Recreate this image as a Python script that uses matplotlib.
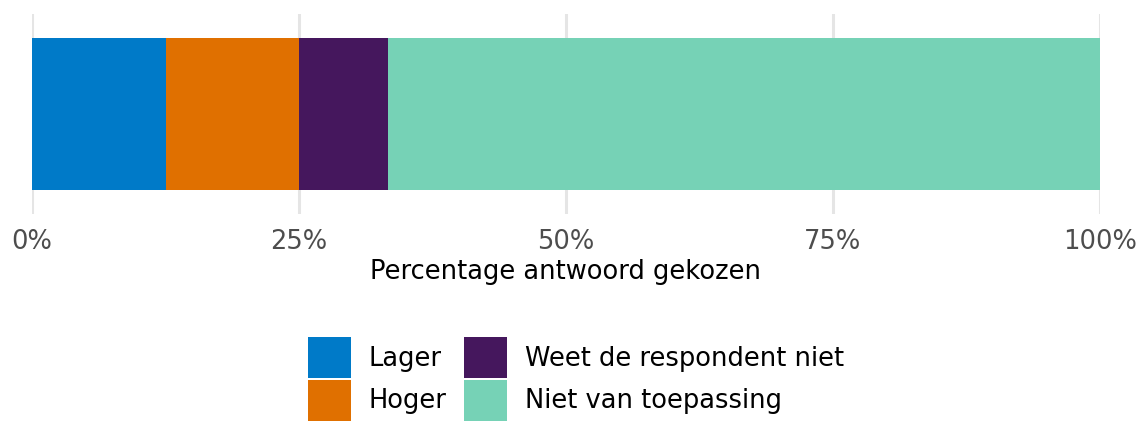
import matplotlib
matplotlib.use("Agg")
import matplotlib.pyplot as plt
from matplotlib.patches import Patch

categories = ["Lager", "Hoger", "Weet de respondent niet", "Niet van toepassing"]
shares = [12.5, 12.5, 8.33, 66.67]
colors = ["#007AC8", "#E07000", "#45175D", "#76D2B6"]
tick_values = [0, 25, 50, 75, 100]
tick_labels = ["0%", "25%", "50%", "75%", "100%"]


def main():
    plt.rcParams["font.family"] = ["DejaVu Sans"]

    fig = plt.figure(figsize=(11.4, 4.22), dpi=100)
    ax = fig.add_axes([32 / 1140, 1 - 214 / 422, 1068 / 1140, 200 / 422])

    left = 0
    for cat, val, col in zip(categories, shares, colors):
        ax.barh(0, val, left=left, height=1.0, color=col, label=cat)
        left += val

    ax.set_xlim(0, 100)
    ax.set_ylim(-0.662, 0.662)
    ax.set_yticks([])
    ax.set_xticks(tick_values)
    ax.set_xticklabels(tick_labels)
    ax.tick_params(axis="x", length=0, labelsize=18.5, colors="#4D4D4D", pad=11)
    ax.grid(axis="x", color="#E5E5E5", linewidth=2.2)
    ax.set_axisbelow(True)
    for s in ax.spines.values():
        s.set_visible(False)
    ax.set_xlabel("Percentage antwoord gekozen", fontsize=18.5, color="black", labelpad=3)

    handles = [Patch(facecolor=c, edgecolor="none") for c in colors]
    fig.legend(handles, categories, loc="center", bbox_to_anchor=(576 / 1140, 1 - 379 / 422),
               ncol=2, frameon=False, fontsize=18.5, handlelength=1.68, handleheight=2.08,
               handletextpad=0.68, columnspacing=0.67, labelspacing=0.04)

    fig.savefig("out.png", dpi=100)


if __name__ == "__main__":
    main()
